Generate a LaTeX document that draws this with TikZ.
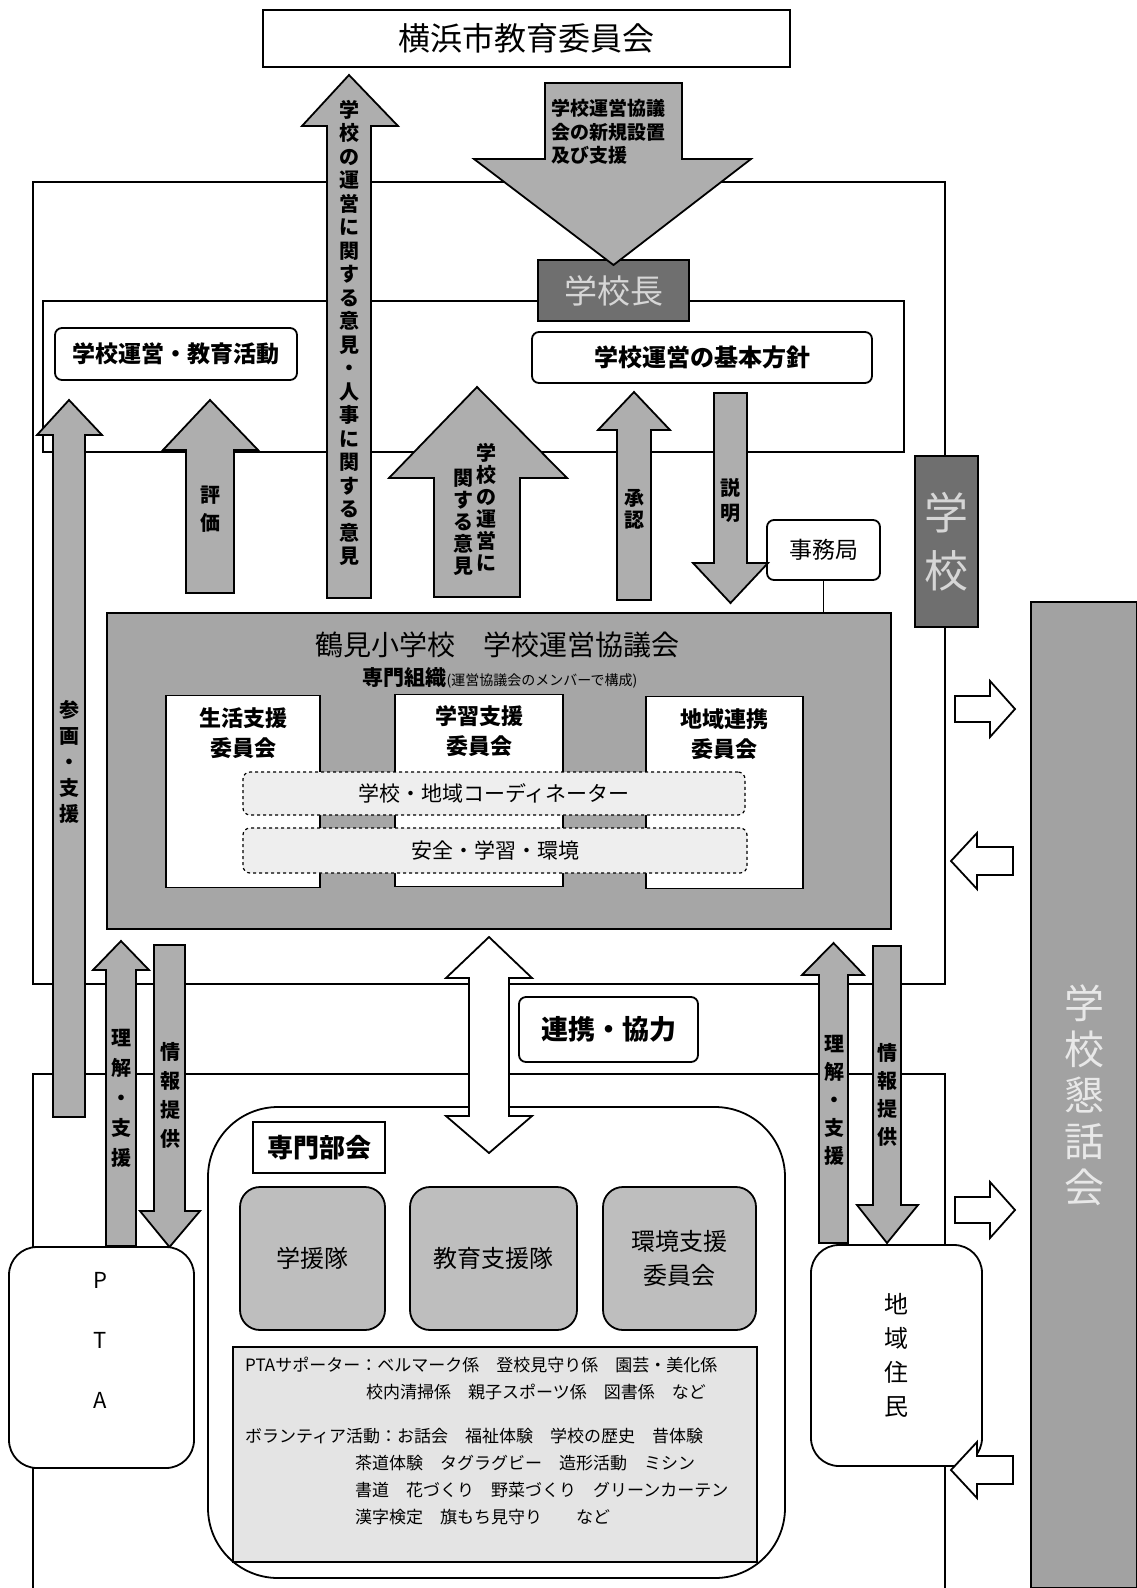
\documentclass[tikz,border=0pt]{standalone}
\usepackage{fontspec}
\setmainfont{Noto Sans CJK JP}
\usepackage{tikz}
\usetikzlibrary{positioning,calc}
\definecolor{arrowfill}{HTML}{AEAEAE}
\definecolor{councilfill}{HTML}{A6A6A6}
\definecolor{headfill}{HTML}{6F6F6F}
\definecolor{headtext}{HTML}{D6D6D6}
\definecolor{bandfill}{HTML}{A2A2A2}
\definecolor{bandtext}{HTML}{E8E8E8}
\definecolor{teamfill}{HTML}{BEBEBE}
\definecolor{notefill}{HTML}{E4E4E4}
\definecolor{linkfill}{HTML}{EEEEEE}
\newcommand{\jpsize}[2]{\fontsize{#1}{#2}\selectfont}
% block arrow: shaft left, shaft right, head left, head right, tip y, head base y, tail y
\newcommand{\blockarrow}[7]{%
  \filldraw[blockarrow] (#1,#7) -- (#1,#6) -- (#3,#6) -- ({(#1+#2)/2},#5)
    -- (#4,#6) -- (#2,#6) -- (#2,#7) -- cycle;}
% small hollow arrow: y, tail x, head base x, tip x, shaft half, head half
\newcommand{\sidearrow}[6]{%
  \filldraw[hollowarrow] (#2,{#1-#5}) -- (#3,{#1-#5}) -- (#3,{#1-#6}) -- (#4,#1)
    -- (#3,{#1+#6}) -- (#3,{#1+#5}) -- (#2,{#1+#5}) -- cycle;}
% two-way arrow: shaft left, shaft right, head left, head right, top tip, top base, bottom base, bottom tip
\newcommand{\twowayarrow}[8]{%
  \filldraw[hollowarrow] ({(#1+#2)/2},#5) -- (#4,#6) -- (#2,#6) -- (#2,#7) -- (#4,#7)
    -- ({(#1+#2)/2},#8) -- (#3,#7) -- (#1,#7) -- (#1,#6) -- (#3,#6) -- cycle;}

\begin{document}
\begin{tikzpicture}[x=1pt, y=-1pt,
  frame/.style={draw=black, line width=1.6pt, inner sep=0pt},
  box/.style={draw=black, line width=1.8pt, fill=white, inner sep=0pt, align=center},
  roundbox/.style={box, rounded corners=7pt},
  headbox/.style={box, fill=headfill, text=headtext},
  dashbox/.style={roundbox, dashed, line width=1.2pt, fill=linkfill, font=\jpsize{21}{21}},
  teambox/.style={box, rounded corners=20pt, fill=teamfill, minimum height=143pt, font=\jpsize{24}{34}},
  commbox/.style={box, minimum height=192pt},
  commlabel/.style={align=center, inner sep=0pt, font=\jpsize{22}{30}\bfseries},
  blockarrow/.style={draw=black, line width=1.8pt, fill=arrowfill},
  hollowarrow/.style={draw=black, line width=1.8pt, fill=white},
  vlabel/.style={align=center, inner sep=0pt, font=\jpsize{20}{#1}\bfseries}
]
\useasboundingbox (0,0) rectangle (1137,1588);
\fill[white] (0,0) rectangle (1137,1588);

% frames
\node[frame, minimum width=912pt, minimum height=802pt] (school) at (489,583) {};
\node[frame, minimum width=861pt, minimum height=151pt] (principalarea) at (473.5,376.5) {};
\draw[frame] (33,1588) -- (33,1074) -- (945,1074) -- (945,1588);

% boxes of the upper part
\node[box, minimum width=527pt, minimum height=57pt, font=\jpsize{32}{32}] (board) at (526.5,38.5) {横浜市教育委員会};
\node[box, fill=bandfill, text=bandtext, minimum width=106pt, minimum height=986pt, font=\jpsize{40}{46}] (forum) at (1084,1095) {学\\校\\懇\\話\\会};
\node[headbox, minimum width=63pt, minimum height=171pt, font=\jpsize{44}{58}] (schoolmark) at (946.5,541.5) {学\\校};
\node[headbox, minimum width=151pt, minimum height=61pt, font=\jpsize{33}{33}] (principal) at (613.5,290.5) {学校長};
\node[roundbox, minimum width=340pt, minimum height=51pt, font=\jpsize{24}{24}\bfseries] (policy) at (702,357.5) {学校運営の基本方針};
\node[roundbox, minimum width=242pt, minimum height=52pt, font=\jpsize{23}{23}\bfseries] (activity) at (176,354) {学校運営・教育活動};
\node[roundbox, minimum width=113pt, minimum height=60pt, font=\jpsize{23}{23}] (office) at (823.5,550) {事務局};

% council
\node[box, fill=councilfill, minimum width=784pt, minimum height=316pt] (council) at (499,771) {};
\node[font=\jpsize{28}{28}] (counciltitle) at (497,645) {鶴見小学校　学校運営協議会};
\node[font=\jpsize{21}{21}\bfseries] (councilsub) at (500,678) {専門組織{\jpsize{14}{14}\mdseries (運営協議会のメンバーで構成)}};
\node[commbox, minimum width=154pt] (life) at (243,791.5) {};
\node[commbox, minimum width=168pt] (study) at (479,790.5) {};
\node[commbox, minimum width=157pt] (region) at (724.5,792.5) {};
\node[commlabel, below=13pt of life.north] (lifename) {生活支援\\委員会};
\node[commlabel, below=12pt of study.north] (studyname) {学習支援\\委員会};
\node[commlabel, below=13pt of region.north] (regionname) {地域連携\\委員会};
\node[dashbox, minimum width=502pt, minimum height=43pt] (coordinator) at (494,793.5) {学校・地域コーディネーター};
\node[dashbox, minimum width=504pt, minimum height=45pt] (safety) at (495,850.5) {安全・学習・環境};
\draw[line width=1.8pt] (office) -- (office |- council.north);

% arrows of the upper part
\blockarrow{545}{682}{474}{751}{265}{159}{83}
\node[anchor=north west, align=left, inner sep=0pt, font=\jpsize{19}{23.5}\bfseries] (setuplabel) at (551,99) {学校運営協議\\会の新規設置\\及び支援};
\blockarrow{327}{371}{302}{398}{75}{126}{598}
\node[vlabel=23.5] (opinionlabel) at (349,333) {学\\校\\の\\運\\営\\に\\関\\す\\る\\意\\見\\・\\人\\事\\に\\関\\す\\る\\意\\見};
\blockarrow{186}{234}{163}{258}{400}{450}{593}
\node[vlabel=28] (evallabel) at (210,509) {評\\価};
\blockarrow{53}{85}{37}{102}{400}{435}{1117}
\node[vlabel=26] (joinlabel) at (69,762) {参\\画\\・\\支\\援};
\blockarrow{434}{520}{389}{567}{387}{478}{597}
\node[vlabel=22] (widelabela) at (486,507) {学\\校\\の\\運\\営\\に};
\node[vlabel=22] (widelabelb) at (463,522) {関\\す\\る\\意\\見};
\blockarrow{617}{651}{598}{670}{392}{430}{600}
\node[vlabel=22] (approvelabel) at (634,509) {承\\認};
\blockarrow{714}{747}{693}{768}{603}{563}{393}
\node[vlabel=25] (explainlabel) at (730,500) {説\\明};

% special section
\node[box, rounded corners=70pt, minimum width=577pt, minimum height=471pt] (section) at (496.5,1342.5) {};
\node[box, minimum width=132pt, minimum height=51pt, font=\jpsize{26}{26}\bfseries] (sectionname) at (319,1147.5) {専門部会};
\node[teambox, minimum width=145pt] (teamone) at (312.5,1258.5) {学援隊};
\node[teambox, minimum width=167pt] (teamtwo) at (493.5,1258.5) {教育支援隊};
\node[teambox, minimum width=153pt] (teamthree) at (679.5,1258.5) {環境支援\\委員会};
\node[box, fill=notefill, minimum width=524pt, minimum height=215pt] (notes) at (495,1454.5) {};
\node[anchor=north west, align=left, inner sep=0pt, font=\jpsize{17}{27}] (notetext) at (245,1357) {PTAサポーター：ベルマーク係　登校見守り係　園芸・美化係\\
\hspace*{121pt}校内清掃係　親子スポーツ係　図書係　など\\[17pt]
ボランティア活動：お話会　福祉体験　学校の歴史　昔体験\\
\hspace*{110pt}茶道体験　タグラグビー　造形活動　ミシン\\
\hspace*{110pt}書道　花づくり　野菜づくり　グリーンカーテン\\
\hspace*{110pt}漢字検定　旗もち見守り　　など};

% cooperation
\twowayarrow{469}{509}{446}{532}{937}{978}{1116}{1153}
\node[roundbox, minimum width=179pt, minimum height=65pt, font=\jpsize{27}{27}\bfseries] (cooperation) at (608.5,1029.5) {連携・協力};

% PTA and residents
\blockarrow{106}{136}{93}{149}{941}{970}{1246}
\node[vlabel=30] (ptaup) at (121,1098) {理\\解\\・\\支\\援};
\blockarrow{154}{185}{140}{200}{1247}{1211}{945}
\node[vlabel=29] (ptadown) at (170,1095) {情\\報\\提\\供};
\blockarrow{819}{848}{802}{864}{943}{975}{1243}
\node[vlabel=28] (localup) at (834,1100) {理\\解\\・\\支\\援};
\blockarrow{873}{901}{857}{918}{1243}{1205}{946}
\node[vlabel=28] (localdown) at (887,1095) {情\\報\\提\\供};
\node[box, rounded corners=28pt, minimum width=185pt, minimum height=221pt] (pta) at (101.5,1357.5) {};
\node[align=center, inner sep=0pt, font=\jpsize{22}{60}] (ptaname) at (100,1340) {P\\T\\A};
\node[box, rounded corners=28pt, minimum width=171pt, minimum height=221pt, font=\jpsize{24}{34}] (residents) at (896.5,1355.5) {地\\域\\住\\民};

% arrows to and from the forum
\sidearrow{709}{955}{990}{1015}{13}{28}
\sidearrow{861}{1013}{977}{951}{14}{28}
\sidearrow{1210}{955}{990}{1015}{13}{28}
\sidearrow{1470}{1013}{977}{951}{14}{28}
\end{tikzpicture}
\end{document}
